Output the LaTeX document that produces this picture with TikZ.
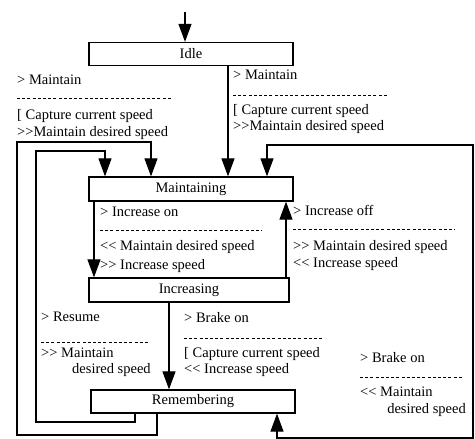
\documentclass[tikz,border=0pt]{standalone}
\usepackage{fontspec}
\setmainfont{Liberation Serif}[Ligatures=TeXOff]
\usetikzlibrary{arrows.meta}
\begin{document}
\begin{tikzpicture}[x=1pt,y=-1pt,
  every node/.style={font=\fontsize{14.5}{16}\selectfont, inner sep=0pt},
  state/.style={draw, line width=1.3pt, minimum height=23pt},
  lbl/.style={anchor=west},
  rlbl/.style={anchor=east},
  sep/.style={line width=0.6pt, dash pattern=on 3pt off 2.2pt},
  conn/.style={line width=1.2pt},
  tip/.style={-{Triangle[length=18pt,width=13pt]}},
  bothtips/.style={{Triangle[length=18pt,width=13pt]}-{Triangle[length=18pt,width=13pt]}}]
\useasboundingbox (0,0) rectangle (475,439);

% states
\node[state, minimum width=204pt] (idle) at (191,54) {Idle};
\node[state, minimum width=204pt, minimum height=24pt] (maint) at (191,189) {Maintaining};
\node[state, minimum width=200pt, minimum height=24pt] (incr) at (189,290) {Increasing};
\node[state, minimum width=204pt] (rem) at (193,401.5) {Remembering};

% reference points for connectors
\coordinate (init) at (185,12);
\coordinate (xa) at (228,0);
\coordinate (xb) at (94,0);
\coordinate (xc) at (286,0);
\coordinate (xd) at (169,0);
\coordinate (outA) at (157,435);
\coordinate (outB) at (17,142);
\coordinate (outC) at (151,0);
\coordinate (inA) at (135,422);
\coordinate (inB) at (36,151);
\coordinate (inC) at (105,0);
\coordinate (rgA) at (267,145);
\coordinate (rgB) at (473,438);
\coordinate (rgC) at (277,0);

% connectors
\draw[conn,tip] (init) -- (idle.north -| init);
\draw[conn,tip] (idle.south -| xa) -- (maint.north -| xa);
\draw[conn,tip] (maint.south -| xb) -- (incr.north -| xb);
\draw[conn,tip] (incr.north -| xc) -- (maint.south -| xc);
\draw[conn,tip] (incr.south -| xd) -- (rem.north -| xd);
\draw[conn,tip] (rem.south -| outA) -- (outA) -| (outB) -| (maint.north -| outC);
\draw[conn,tip] (rem.south -| inA) -- (inA) -| (inB) -| (maint.north -| inC);
\draw[conn,bothtips] (maint.north -| rgA) -- (rgA) -| (rgB) -| (rem.south -| rgC);

% transition labels: Idle -> Maintaining (left)
\node[lbl] (l1a) at (17,80) {> Maintain};
\draw[sep] (17,98) -- (172,98);
\node[lbl] (l1b) at (17,116) {[ Capture current speed};
\node[lbl] (l1c) at (17,133) {>>Maintain desired speed};

% Idle -> Maintaining (right)
\node[lbl] (l2a) at (233,75) {> Maintain};
\draw[sep] (233,95) -- (388,95);
\node[lbl] (l2b) at (233,111) {[ Capture current speed};
\node[lbl] (l2c) at (233,127) {>>Maintain desired speed};

% Maintaining -> Increasing
\node[lbl] (l3a) at (100,212) {> Increase on};
\draw[sep] (100,230) -- (262,230);
\node[lbl] (l3b) at (100,247) {<< Maintain desired speed};
\node[lbl] (l3c) at (100,266) {>> Increase speed};

% Increasing -> Maintaining
\node[lbl] (l4a) at (293,210) {> Increase off};
\draw[sep] (293,229) -- (455,229);
\node[lbl] (l4b) at (293,247) {>> Maintain desired speed};
\node[lbl] (l4c) at (293,264) {<< Increase speed};

% Remembering -> Maintaining
\node[lbl] (l5a) at (41,317) {> Resume};
\draw[sep] (41,342) -- (148,342);
\node[lbl] (l5b) at (41,353) {>> Maintain};
\node[lbl] (l5c) at (72,370) {desired speed};

% Increasing -> Remembering
\node[lbl] (l6a) at (184,318) {> Brake on};
\draw[sep] (184,338) -- (323,338);
\node[lbl] (l6b) at (184,354) {[ Capture current speed};
\node[lbl] (l6c) at (184,370) {<< Increase speed};

% Maintaining -> Remembering
\node[lbl] (l7a) at (360,358) {> Brake on};
\draw[sep] (360,377) -- (463,377);
\node[lbl] (l7b) at (360,392) {<< Maintain};
\node[rlbl] (l7c) at (466,410) {desired speed};
\end{tikzpicture}
\end{document}
